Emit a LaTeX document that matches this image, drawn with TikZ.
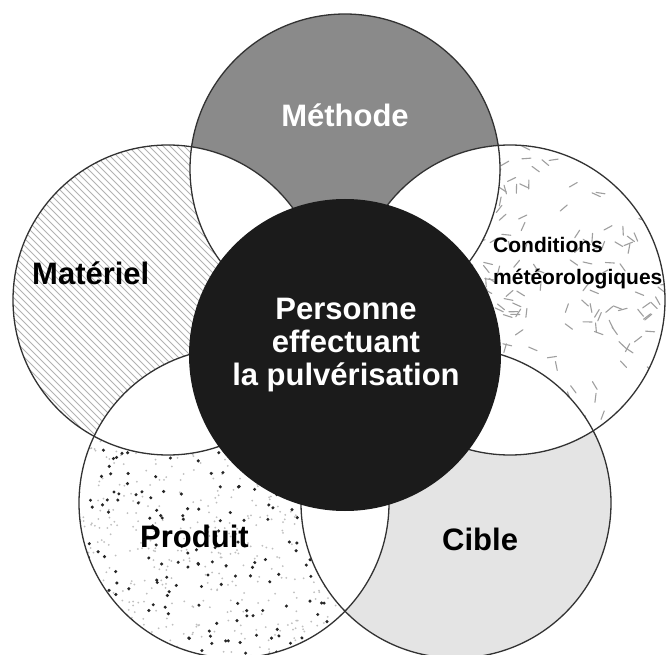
\documentclass[tikz,border=0pt]{standalone}
\usepackage{fontspec}
\setmainfont{Liberation Sans}
\definecolor{methgray}{RGB}{138,138,138}
\definecolor{ciblegray}{RGB}{228,228,228}
\definecolor{coreblack}{RGB}{27,27,27}
\definecolor{edge}{RGB}{50,50,50}
\begin{document}
\begin{tikzpicture}[x=1pt,y=-1pt,
  rim/.style={draw=edge, line width=1.3pt},
  lab/.style={font=\fontsize{31}{33}\selectfont\bfseries, inner sep=0pt},
  smalllab/.style={font=\fontsize{21}{32}\selectfont\bfseries, inner sep=0pt},
  hatch/.style={draw=gray!60, line width=0.8pt},
  wdash/.style={draw=gray!75, line width=1.1pt, line cap=round},
  lightdot/.style={fill=gray!50},
  darkdot/.style={fill=black!85},
]
\useasboundingbox (0,0) rectangle (667,655);
\clip (0,0) rectangle (667,655);
\def\R{155pt}
\coordinate (cMe) at (345,169);
\coordinate (cMa) at (168,300);
\coordinate (cCo) at (510,300);
\coordinate (cPr) at (234,503);
\coordinate (cCi) at (456,503);
\coordinate (cPe) at (345,355);

% Methode
\fill[methgray] (cMe) circle[radius=\R];

% Materiel (hatching)
\fill[white] (cMa) circle[radius=\R];
\begin{scope}
  \clip (cMa) circle[radius=\R];
  \foreach \a in {-312,-305,...,330} \draw[hatch] (\a,140) -- ++(325,325);
\end{scope}

% Conditions meteorologiques (random dashes)
\fill[white] (cCo) circle[radius=\R];
\begin{scope}
  \clip (cCo) circle[radius=\R];
  \pgfmathsetseed{11}
  \foreach \i in {1,...,230}{
    \pgfmathsetmacro\ang{360*rnd}
    \pgfmathsetmacro\rad{158*sqrt(rnd)}
    \pgfmathsetmacro\rot{180*rnd}
    \pgfmathsetmacro\px{510+\rad*cos(\ang)}
    \pgfmathsetmacro\py{300+\rad*sin(\ang)}
    \draw[wdash] (\px,\py) ++(\rot:-4.5) -- ++(\rot:9);
  }
\end{scope}

% Produit (random dots)
\fill[white] (cPr) circle[radius=\R];
\begin{scope}
  \clip (cPr) circle[radius=\R];
  \pgfmathsetseed{5}
  \foreach \i in {1,...,650}{
    \pgfmathsetmacro\ang{360*rnd}
    \pgfmathsetmacro\rad{158*sqrt(rnd)}
    \pgfmathsetmacro\px{234+\rad*cos(\ang)}
    \pgfmathsetmacro\py{503+\rad*sin(\ang)}
    \fill[lightdot] (\px,\py) circle[radius=1pt];
  }
  \foreach \i in {1,...,300}{
    \pgfmathsetmacro\ang{360*rnd}
    \pgfmathsetmacro\rad{158*sqrt(rnd)}
    \pgfmathsetmacro\px{234+\rad*cos(\ang)}
    \pgfmathsetmacro\py{503+\rad*sin(\ang)}
    \fill[darkdot] (\px,\py) circle[radius=1.7pt];
  }
\end{scope}

% Cible
\fill[ciblegray] (cCi) circle[radius=\R];

% white lenses between neighbours
\foreach \p/\q in {cMe/cMa, cMe/cCo, cMa/cPr, cCo/cCi, cPr/cCi}{
  \begin{scope}
    \clip (\p) circle[radius=\R];
    \fill[white] (\q) circle[radius=\R];
  \end{scope}
}

% outlines
\foreach \c in {cMe,cMa,cCo,cPr,cCi} \draw[rim] (\c) circle[radius=\R];

% central circle
\fill[coreblack] (cPe) circle[radius=156pt];

% labels
\node[lab, text=white, anchor=base] (methode) at (345,127) {Méthode};
\node[lab, anchor=base west] (materiel) at (32,285) {Matériel};
\node[smalllab, align=left, anchor=west] (conditions) at (493,263.5) {Conditions\\météorologiques};
\node[lab, anchor=base west] (produit) at (140,547) {Produit};
\node[lab, anchor=base west] (cible) at (442,550) {Cible};
\node[lab, text=white, align=center] (personne) at (346,345) {Personne\\effectuant\\la pulvérisation};
\end{tikzpicture}
\end{document}
